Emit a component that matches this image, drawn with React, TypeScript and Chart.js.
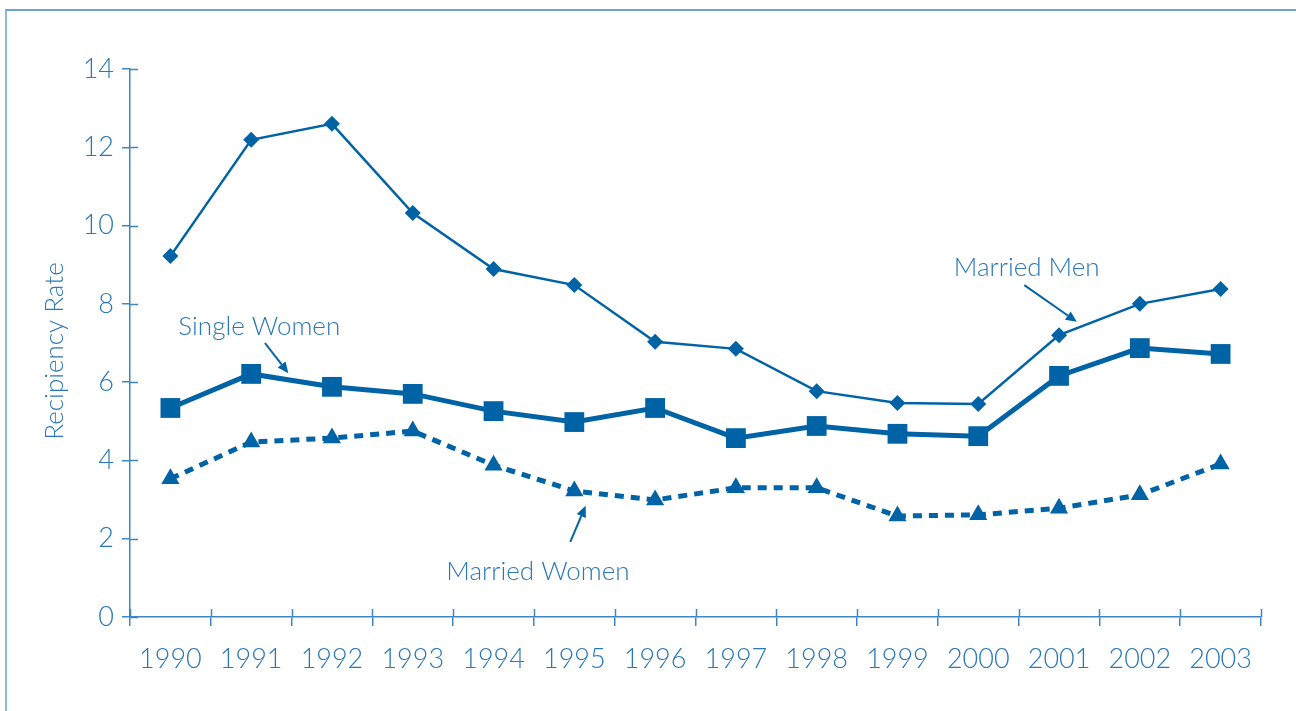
import React, { useEffect, useRef } from "react";
import { Chart, registerables } from "chart.js";

Chart.register(...registerables);

const years = ["1990", "1991", "1992", "1993", "1994", "1995", "1996", "1997", "1998", "1999", "2000", "2001", "2002", "2003"];
const marriedMen = [9.22, 12.19, 12.6, 10.32, 8.89, 8.48, 7.03, 6.85, 5.77, 5.47, 5.44, 7.2, 8.0, 8.38];
const singleWomen = [5.34, 6.21, 5.88, 5.7, 5.26, 4.98, 5.34, 4.57, 4.88, 4.68, 4.62, 6.16, 6.87, 6.72];
const marriedWomen = [3.53, 4.47, 4.57, 4.75, 3.88, 3.22, 2.99, 3.3, 3.3, 2.58, 2.61, 2.78, 3.12, 3.91];
const yMin = 0;
const yMax = 14;
const yStep = 2;
const yTitle = "Recipiency Rate";

// annotation labels, in (category index, value) coordinates
const noteLabels = ["Married Men", "Single Women", "Married Women"];
const noteTextAt = [[10.6, 8.92], [1.1, 7.43], [4.55, 1.15]];
const noteArrowFrom = [[10.57, 8.48], [1.17, 7.0], [4.95, 1.92]];
const noteArrowTo = [[11.22, 7.54], [1.46, 6.23], [5.14, 2.84]];

const LINE = "#0063a6";
const TEXT = "#2a78b8";
const AXIS = "#3f86c0";
const FONT = "Lato, 'Open Sans', sans-serif";

const overlay = {
  id: "overlay",
  afterDraw(chart: any) {
    const { ctx } = chart;
    const x = chart.scales.x;
    const y = chart.scales.y;
    ctx.save();
    // inner halves of cross-style ticks
    ctx.strokeStyle = AXIS;
    ctx.lineWidth = 1.5;
    y.ticks.forEach((_t: any, i: number) => {
      const py = Math.round(y.getPixelForTick(i)) + 0.5;
      ctx.beginPath();
      ctx.moveTo(x.left, py);
      ctx.lineTo(x.left + 8, py);
      ctx.stroke();
    });
    for (let i = 0; i <= years.length; i++) {
      const px = Math.round(x.getPixelForValue(i - 0.5)) + 0.5;
      ctx.beginPath();
      ctx.moveTo(px, y.bottom);
      ctx.lineTo(px, y.bottom - 8);
      ctx.stroke();
    }
    // y axis title
    ctx.save();
    ctx.font = `300 26px ${FONT}`;
    ctx.fillStyle = TEXT;
    ctx.textAlign = "center";
    ctx.textBaseline = "middle";
    ctx.translate(55, (y.top + y.bottom) / 2 + 8);
    ctx.rotate(-Math.PI / 2);
    ctx.fillText(yTitle, 0, 0);
    ctx.restore();
    // annotations
    ctx.font = `300 26px ${FONT}`;
    ctx.fillStyle = TEXT;
    ctx.textAlign = "center";
    ctx.textBaseline = "middle";
    noteLabels.forEach((label, i) => {
      const tx = x.getPixelForValue(noteTextAt[i][0]);
      const ty = y.getPixelForValue(noteTextAt[i][1]);
      ctx.fillStyle = TEXT;
      ctx.fillText(label, tx, ty);
      const x0 = x.getPixelForValue(noteArrowFrom[i][0]);
      const y0 = y.getPixelForValue(noteArrowFrom[i][1]);
      const x1 = x.getPixelForValue(noteArrowTo[i][0]);
      const y1 = y.getPixelForValue(noteArrowTo[i][1]);
      const ang = Math.atan2(y1 - y0, x1 - x0);
      const head = 11;
      const hw = 5;
      const bx = x1 - Math.cos(ang) * head;
      const by = y1 - Math.sin(ang) * head;
      ctx.strokeStyle = LINE;
      ctx.fillStyle = LINE;
      ctx.lineWidth = 2;
      ctx.beginPath();
      ctx.moveTo(x0, y0);
      ctx.lineTo(bx, by);
      ctx.stroke();
      ctx.beginPath();
      ctx.moveTo(x1, y1);
      ctx.lineTo(bx - Math.sin(ang) * hw, by + Math.cos(ang) * hw);
      ctx.lineTo(bx + Math.sin(ang) * hw, by - Math.cos(ang) * hw);
      ctx.closePath();
      ctx.fill();
    });
    ctx.restore();
  },
};

export default function App() {
  const ref = useRef<HTMLCanvasElement>(null);
  useEffect(() => {
    if (!ref.current) return;
    const chart = new Chart(ref.current, {
      type: "line",
      data: {
        labels: years,
        datasets: [
          {
            label: "Married Men",
            data: marriedMen,
            borderColor: LINE,
            backgroundColor: LINE,
            borderWidth: 2.5,
            pointStyle: "rectRot",
            pointRadius: 8,
            pointBorderWidth: 0,
            tension: 0,
          },
          {
            label: "Single Women",
            data: singleWomen,
            borderColor: LINE,
            backgroundColor: LINE,
            borderWidth: 5,
            pointStyle: "rect",
            pointRadius: 14,
            pointBorderWidth: 0,
            tension: 0,
          },
          {
            label: "Married Women",
            data: marriedWomen,
            borderColor: LINE,
            backgroundColor: LINE,
            borderWidth: 5,
            borderDash: [9, 7],
            pointStyle: "triangle",
            pointRadius: 10.5,
            pointBorderWidth: 0,
            tension: 0,
          },
        ],
      },
      options: {
        animation: false,
        responsive: false,
        maintainAspectRatio: false,
        layout: { padding: { top: 69, right: 35, left: 0, bottom: 0 } },
        plugins: { legend: { display: false }, tooltip: { enabled: false } },
        scales: {
          x: {
            offset: true,
            grid: { offset: true, drawOnChartArea: false, drawTicks: true, tickLength: 9, color: AXIS, lineWidth: 1.5 },
            border: { display: true, color: AXIS, width: 1.5 },
            ticks: { color: TEXT, font: { family: FONT, size: 27, weight: "300" as any }, padding: 17, maxRotation: 0, autoSkip: false },
            afterFit: (s: any) => { s.height = 94; },
          },
          y: {
            min: yMin,
            max: yMax,
            grid: { drawOnChartArea: false, drawTicks: true, tickLength: 8, color: AXIS, lineWidth: 1.5 },
            border: { display: true, color: AXIS, width: 1.5 },
            ticks: { stepSize: yStep, color: TEXT, font: { family: FONT, size: 27, weight: "300" as any }, padding: 8 },
            afterFit: (s: any) => { s.width = 130; },
          },
        },
      },
      plugins: [overlay],
    });
    return () => chart.destroy();
  }, []);
  return (
    <div style={{ position: "fixed", left: 0, top: 0, width: 1296, height: 711, background: "#fff" }}>
      <div style={{ position: "absolute", left: 5, top: 9, right: 0, bottom: 0, borderTop: "2px solid #6fa3cf", borderLeft: "2px solid #8dbadb" }} />
      <canvas ref={ref} width={1296} height={711} style={{ position: "absolute", left: 0, top: 0 }} />
    </div>
  );
}
